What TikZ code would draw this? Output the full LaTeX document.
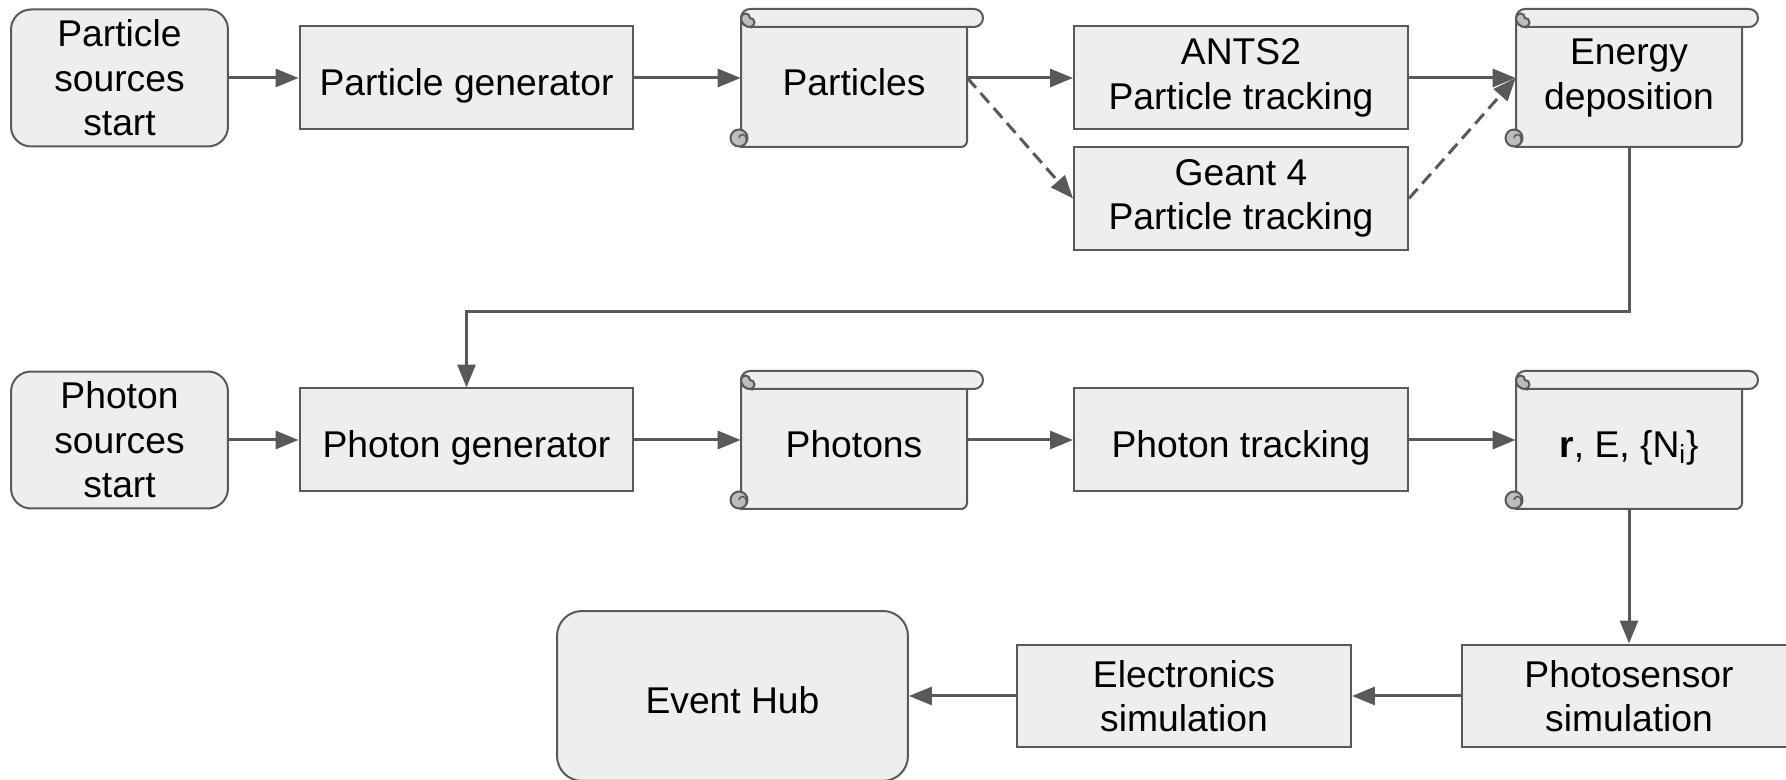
\documentclass[tikz,border=0pt]{standalone}
\usepackage{fontspec}
\setmainfont{Liberation Sans}
\usetikzlibrary{arrows.meta}

\definecolor{boxfill}{HTML}{EEEEEE}
\definecolor{boxline}{HTML}{595959}
\definecolor{curlfill}{HTML}{BDBDBD}

\tikzset{
  every node/.style={font=\fontsize{21.2}{25.3}\selectfont, align=center, inner sep=0pt},
  oneline/.style={text height=21pt, text depth=1.5pt},
  proc/.style={draw=boxline, fill=boxfill, line width=0.04cm, minimum width=6.68cm, minimum height=2.06cm},
  startbox/.style={proc, rounded corners=0.4cm, minimum width=4.34cm, minimum height=2.74cm},
  hubbox/.style={proc, rounded corners=0.5cm, minimum width=7.02cm, minimum height=3.4cm},
  scrolltext/.style={minimum width=4.52cm, minimum height=2.76cm},
  scrollline/.style={draw=boxline, fill=boxfill, line width=0.04cm},
  curl/.style={draw=boxline, fill=curlfill, line width=0.04cm},
  flow/.style={draw=boxline, line width=0.06cm, -{Triangle[length=0.46cm,width=0.36cm]}},
  maybe/.style={flow, dash pattern=on 0.26cm off 0.14cm}
}

% scroll shape: #1 = left, #2 = bottom
\newcommand{\scrollshape}[2]{%
  % body
  \filldraw[scrollline] (#1,#2+129) -- (#1,#2) -- (#1+220,#2)
    arc[start angle=-90,end angle=0,radius=6] -- (#1+226,#2+120);
  % top roll
  \filldraw[scrollline] (#1+9,#2+138) -- (#1+233,#2+138)
    arc[start angle=90,end angle=-90,radius=9] -- (#1+9,#2+120)
    arc[start angle=270,end angle=90,radius=9] -- cycle;
  % curls
  \filldraw[curl] (#1+9,#2+120) arc[start angle=270,end angle=180,radius=9]
    arc[start angle=180,end angle=0,radius=4.5]
    arc[start angle=90,end angle=-90,radius=4.5] -- cycle;
  \filldraw[curl] (#1-2,#2+9) circle[radius=8.5];
  \draw[boxline, line width=0.03cm] (#1-2,#2+9) arc[start angle=180,end angle=0,radius=3.5] -- (#1+5,#2+4);
}

\begin{document}
\begin{tikzpicture}[x=0.02cm, y=0.02cm]

\useasboundingbox (0,0) rectangle (1786,780);

% Draw the scroll shapes
\scrollshape{741}{633}
\scrollshape{1516}{633}
\scrollshape{741}{271}
\scrollshape{1516}{271}

% Particle row
\node[startbox] (psrc) at (119.5,702) {Particle\\sources\\start};
\node[proc, oneline] (pgen) at (466.5,702) {Particle generator};
\node[scrolltext, oneline] (parts) at (854,702) {Particles};
\node[proc] (ants) at (1241,702) {ANTS2\\Particle tracking};
\node[proc] (geant) at (1241,581.5) {Geant 4\\Particle tracking};
\node[scrolltext] (edep) at (1629,702) {Energy\\deposition};

% Photon row
\node[startbox] (phsrc) at (119.5,340) {Photon\\sources\\start};
\node[proc, oneline] (phgen) at (466.5,340) {Photon generator};
\node[scrolltext, oneline] (phot) at (854,340) {Photons};
\node[proc, oneline] (phtrack) at (1241,340) {Photon tracking};
\node[scrolltext, oneline] (hits) at (1629,340) {\textbf{r}, E, \{N\textsubscript{i}\}};

% Output row
\node[proc] (sens) at (1629,84) {Photosensor\\simulation};
\node[proc] (elec) at (1184,84) {Electronics\\simulation};
\node[hubbox, oneline] (hub) at (732.5,84) {Event Hub};

% Connectors
\coordinate (turn) at (1629,468);
\draw[flow] (psrc) -- (pgen);
\draw[flow] (pgen) -- (parts);
\draw[flow] (parts) -- (ants);
\draw[maybe] (parts.east) -- (geant.west);
\draw[flow] (ants) -- (edep.west);
\draw[maybe] (geant.east) -- (edep.west);
\draw[flow] (edep.south) -- (turn) -| (phgen.north);
\draw[flow] (phsrc) -- (phgen);
\draw[flow] (phgen) -- (phot);
\draw[flow] (phot) -- (phtrack);
\draw[flow] (phtrack) -- (hits);
\draw[flow] (hits.south) -- (sens.north);
\draw[flow] (sens) -- (elec);
\draw[flow] (elec) -- (hub);

\end{tikzpicture}
\end{document}
